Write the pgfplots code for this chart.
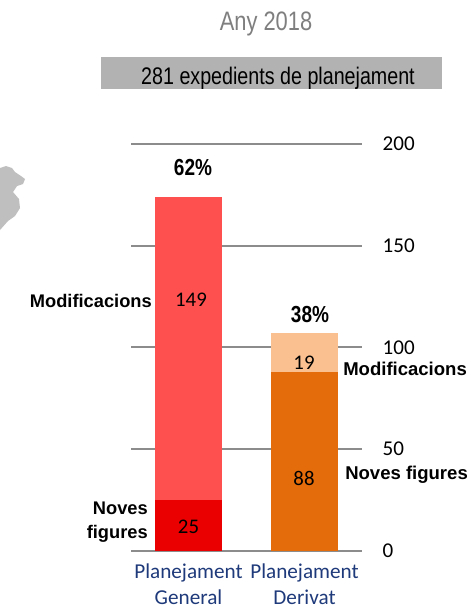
\documentclass[border=0pt]{standalone}
\usepackage{pgfplots}
\pgfplotsset{compat=1.18}
\usepackage{fontspec}
\setmainfont{Carlito}
\newfontfamily\narrow[FakeStretch=0.82]{Liberation Sans}
\newfontfamily\lib{Liberation Sans}
\definecolor{gridg}{HTML}{8C8C8C}
\definecolor{titleg}{HTML}{7F7F7F}
\definecolor{boxg}{HTML}{B2B2B2}
\definecolor{navy}{HTML}{1F3A7A}
\definecolor{mapg}{HTML}{BFBFBF}
\definecolor{genmod}{HTML}{FF5050}
\definecolor{gennf}{HTML}{EA0000}
\definecolor{dermod}{HTML}{FAC090}
\definecolor{dernf}{HTML}{E46C0A}
\tikzset{dlab/.style={font=\fontsize{15.6}{18}\selectfont,text=black}}
\begin{document}
\begin{tikzpicture}[x=0.75pt,y=-0.75pt]
\useasboundingbox (0,0) rectangle (471,614);
\fill[white] (0,0) rectangle (471,614);
% map fragment
\fill[mapg] (0,168) -- (6,166) -- (12,168) -- (15,172) -- (21,176) -- (25,179) -- (23,184) -- (17,186) -- (13,192) -- (19,199) -- (20,208) -- (15,216) -- (8,221) -- (0,230) -- cycle;
% header
\node[text=titleg,font=\narrow\fontsize{20}{22}\selectfont] at (266,24) {Any 2018};
\fill[boxg] (101,57) rectangle (442,89);
\node[text=black,font=\narrow\fontsize{18}{20}\selectfont] at (278,78) {281 expedients de planejament};
\begin{axis}[
  at={(98.25pt,-412.875pt)}, anchor=south west,
  scale only axis, width=173.25pt, height=304.875pt,
  xmin=-0.4957, xmax=1.4957, ymin=0, ymax=200,
  clip=false,
  axis x line=bottom, axis y line=right,
  x axis line style={draw=gridg,line width=1.5pt,-},
  y axis line style={draw=none},
  major tick length=0pt,
  ytick={0,50,100,150,200},
  ymajorgrids, grid style={draw=gridg,line width=1.5pt},
  xtick={0,1},
  xticklabels={{Planejament\\General},{Planejament\\Derivat}},
  xticklabel style={align=center,text=navy,font=\fontsize{15.9}{19.5}\selectfont,yshift=-9.5pt,inner sep=0pt},
  yticklabel style={anchor=west,xshift=12pt,font=\fontsize{15.8}{18}\selectfont,text=black},
  /pgf/number format/assume math mode=true,
  ybar stacked, bar width=50.25pt,
  ]
\addplot[fill=gennf,draw=none] coordinates {(0,25) (1,0)};
\addplot[fill=genmod,draw=none] coordinates {(0,149) (1,0)};
\addplot[fill=dernf,draw=none] coordinates {(0,0) (1,88)};
\addplot[fill=dermod,draw=none] coordinates {(0,0) (1,19)};
\end{axis}
\node[dlab] at (188.5,527) {25};
\node[dlab] at (191,300) {149};
\node[dlab] at (304,478) {88};
\node[dlab] at (304,363) {19};
\node[text=black,font=\narrow\bfseries\fontsize{17.4}{20}\selectfont] at (193,168) {62\%};
\node[text=black,font=\narrow\bfseries\fontsize{17.4}{20}\selectfont] at (310,315) {38\%};
\node[text=black,font=\lib\bfseries\fontsize{13.7}{17}\selectfont,anchor=east,inner sep=0pt] at (152,301) {Modificacions};
\node[text=black,font=\lib\bfseries\fontsize{13.7}{18}\selectfont,anchor=east,inner sep=0pt,align=right] at (148,522) {Noves\\figures};
\node[text=black,font=\lib\bfseries\fontsize{13.9}{17}\selectfont,anchor=west,inner sep=0pt] at (343,369) {Modificacions};
\node[text=black,font=\lib\bfseries\fontsize{13.9}{17}\selectfont,anchor=west,inner sep=0pt] at (345,475) {Noves figures};
\end{tikzpicture}
\end{document}
